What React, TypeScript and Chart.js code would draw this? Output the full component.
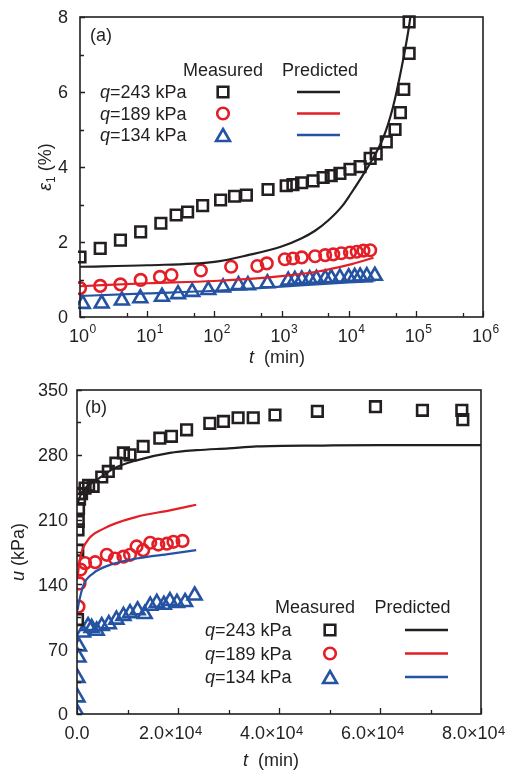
import React, { useEffect, useRef } from 'react';
import { Chart, registerables } from 'chart.js';

Chart.register(...registerables);

const FONT = "'Liberation Sans', Arial, Helvetica, sans-serif";
const INK = '#231f20';
const RED = '#e41e26';
const BLUE = '#2553a3';

// ---------- Panel (a): strain vs log time ----------
const A_T243 = [1, 2, 4, 8, 16, 27, 40, 67, 124, 200, 300, 630, 1175, 1480, 1995, 2950, 4170, 5500, 7410, 10470, 14790, 20890, 25700, 36300, 49000, 58900, 66070, 79430, 79430];
const A_E243 = [1.6, 1.83, 2.05, 2.27, 2.5, 2.72, 2.8, 2.97, 3.12, 3.22, 3.25, 3.4, 3.5, 3.53, 3.58, 3.63, 3.72, 3.77, 3.83, 3.94, 4.01, 4.23, 4.35, 4.67, 5.0, 5.45, 6.07, 7.03, 7.87];
const A_T189 = [1, 2, 4, 8, 15.5, 23, 63, 178, 437, 603, 1120, 1480, 2000, 3160, 4470, 5890, 7760, 10470, 13180, 16600, 20900];
const A_E189 = [0.77, 0.83, 0.87, 0.99, 1.07, 1.12, 1.24, 1.34, 1.36, 1.43, 1.54, 1.56, 1.59, 1.62, 1.65, 1.67, 1.7, 1.72, 1.74, 1.77, 1.78];
const A_T134 = [1.1, 2.1, 4.2, 7.9, 16.6, 28.8, 46.8, 81.3, 135, 229, 316, 617, 1260, 1580, 2000, 2630, 3310, 4470, 5500, 7410, 10000, 12300, 14800, 18600, 24500];
const A_E134 = [0.35, 0.36, 0.44, 0.5, 0.54, 0.61, 0.67, 0.72, 0.79, 0.85, 0.85, 0.9, 0.97, 0.99, 1.0, 1.01, 1.02, 1.03, 1.04, 1.05, 1.06, 1.07, 1.08, 1.09, 1.1];

const A_PT243 = [1, 10, 100, 316, 1000, 2000, 3160, 5000, 7940, 10700, 15850, 20900, 33100, 45700, 61700, 77600, 89100];
const A_PE243 = [1.34, 1.38, 1.47, 1.65, 1.88, 2.1, 2.3, 2.58, 2.95, 3.28, 3.75, 4.1, 4.8, 5.6, 6.67, 7.65, 8.4];
const A_PT189 = [1, 10, 100, 1000, 3160, 10000, 23400];
const A_PE189 = [0.82, 0.9, 0.96, 1.09, 1.2, 1.39, 1.58];
const A_PT134 = [1, 10, 100, 1000, 10000, 23400];
const A_PE134 = [0.56, 0.63, 0.7, 0.81, 0.92, 0.95];

const A_Y_TICKS = [0, 2, 4, 6, 8];
const A_Y_MINOR = [1, 3, 5, 7];
const A_X_TICKS = [1, 10, 100, 1000, 10000, 100000, 1000000];
const A_X_EXP = ['0', '1', '2', '3', '4', '5', '6'];
const A_X_MINOR = [5, 50, 500, 5000, 50000, 500000];

// ---------- Panel (b): pore pressure vs linear time ----------
const B_T243 = [100, 150, 200, 250, 300, 400, 500, 900, 1600, 2300, 3200, 4900, 6200, 7700, 9200, 10500, 13100, 16400, 18700, 21700, 26300, 29000, 31900, 34900, 39200, 47600, 59100, 68400, 76200, 76400];
const B_U243 = [102, 177, 199, 208, 222, 238, 232, 238, 244, 247, 246, 256, 262, 271, 282, 280, 289, 298, 300, 307, 314, 316, 320, 320, 323, 327, 332, 328, 328, 318];
const B_T189 = [300, 500, 700, 1600, 3600, 5900, 7500, 9200, 10500, 11800, 13100, 14500, 16100, 17800, 19100, 20900];
const B_U189 = [116, 141, 156, 163, 164, 172, 168, 170, 172, 181, 177, 185, 183, 184, 186, 187];
const B_T134 = [100, 100, 100, 300, 400, 1200, 2200, 2900, 3900, 4900, 6300, 7800, 9200, 10500, 12000, 13400, 14500, 15800, 17200, 18400, 19800, 21400, 23300];
const B_U134 = [1, 18, 39, 61, 73, 88, 95, 93, 90, 95, 97, 102, 106, 109, 112, 108, 117, 120, 118, 122, 120, 121, 128];

const B_PT243 = [150, 1000, 2570, 5000, 7200, 11800, 18400, 23700, 30000, 35600, 48800, 60000, 80000];
const B_PU243 = [228, 240, 248, 257, 265, 274, 282, 285, 287, 289, 290, 290.5, 290.5];
const B_PT189 = [100, 600, 1900, 5200, 11800, 18400, 23600];
const B_PU189 = [147, 168, 186, 200, 213, 220, 226];
const B_PT134 = [100, 400, 1250, 3200, 6500, 11800, 18400, 23600];
const B_PU134 = [112, 121, 139, 152, 161, 168, 173, 177];

const B_Y_TICKS = [0, 70, 140, 210, 280, 350];
const B_Y_MINOR = [35, 105, 175, 245, 315];
const B_X_TICKS = [0, 20000, 40000, 60000, 80000];
const B_X_BASE = ['0.0', '2.0×10', '4.0×10', '6.0×10', '8.0×10'];
const B_X_EXP = ['', '4', '4', '4', '4'];
const B_X_MINOR = [10000, 30000, 50000, 70000];

const LEGEND_Q = ['243', '189', '134'];
const LEGEND_COLORS = [INK, RED, BLUE];
const LEGEND_STYLES = ['rect', 'circle', 'triangle'];

const MARK_W = 2.6;
const R_RECT = 7.5;
const R_CIRC = 5.8;
const R_TRI = 8;

// ---------- helpers ----------
type Run = { t: string; size: number; italic?: boolean; dy?: number };
const fontOf = (r: Run) => `${r.italic ? 'italic ' : ''}${r.size}px ${FONT}`;

function runsWidth(ctx: CanvasRenderingContext2D, runs: Run[]) {
  let w = 0;
  for (const r of runs) { ctx.font = fontOf(r); w += ctx.measureText(r.t).width; }
  return w;
}
function drawRuns(ctx: CanvasRenderingContext2D, runs: Run[], x: number, baseY: number, align: 'left' | 'center' | 'right') {
  const w = runsWidth(ctx, runs);
  let cx = align === 'left' ? x : align === 'center' ? x - w / 2 : x - w;
  ctx.textAlign = 'left';
  ctx.textBaseline = 'alphabetic';
  ctx.fillStyle = INK;
  for (const r of runs) {
    ctx.font = fontOf(r);
    ctx.fillText(r.t, cx, baseY + (r.dy || 0));
    cx += ctx.measureText(r.t).width;
  }
}
function drawMarker(ctx: CanvasRenderingContext2D, style: string, x: number, y: number, color: string) {
  ctx.save();
  ctx.strokeStyle = color;
  ctx.lineWidth = MARK_W;
  ctx.beginPath();
  if (style === 'rect') {
    const s = R_RECT * Math.SQRT1_2;
    ctx.rect(x - s, y - s, 2 * s, 2 * s);
  } else if (style === 'circle') {
    ctx.arc(x, y, R_CIRC, 0, Math.PI * 2);
  } else {
    const r = R_TRI;
    const yc = y + 0.25 * r;
    ctx.moveTo(x, yc - r);
    ctx.lineTo(x + r * 0.866, yc + r * 0.5);
    ctx.lineTo(x - r * 0.866, yc + r * 0.5);
    ctx.closePath();
  }
  ctx.stroke();
  ctx.restore();
}
function drawFrameTicks(chart: any, xMajor: number[], xMinor: number[], yMajor: number[], yMinor: number[]) {
  const { ctx, chartArea } = chart;
  const { left, right, top, bottom } = chartArea;
  const xs = chart.scales.x;
  const ys = chart.scales.y;
  ctx.save();
  ctx.strokeStyle = INK;
  ctx.lineWidth = 1.6;
  ctx.strokeRect(left, top, right - left, bottom - top);
  ctx.lineWidth = 1.3;
  ctx.beginPath();
  for (const v of xMajor) { const p = Math.round(xs.getPixelForValue(v)) + 0.5; ctx.moveTo(p, bottom); ctx.lineTo(p, bottom - 6); }
  for (const v of xMinor) { const p = Math.round(xs.getPixelForValue(v)) + 0.5; ctx.moveTo(p, bottom); ctx.lineTo(p, bottom - 4); }
  for (const v of yMajor) { const p = Math.round(ys.getPixelForValue(v)) + 0.5; ctx.moveTo(left, p); ctx.lineTo(left + 5, p); }
  for (const v of yMinor) { const p = Math.round(ys.getPixelForValue(v)) + 0.5; ctx.moveTo(left, p); ctx.lineTo(left + 4, p); }
  ctx.stroke();
  ctx.restore();
}
function drawYLabels(chart: any, vals: number[], x: number) {
  const ctx = chart.ctx;
  const ys = chart.scales.y;
  for (const v of vals) drawRuns(ctx, [{ t: String(v), size: 18 }], x, ys.getPixelForValue(v) + 6.4, 'right');
}
function drawYTitle(ctx: CanvasRenderingContext2D, runs: Run[], cx: number, cy: number) {
  ctx.save();
  ctx.translate(cx, cy);
  ctx.rotate(-Math.PI / 2);
  drawRuns(ctx, runs, 0, 6.4, 'center');
  ctx.restore();
}
type LegendPos = { mX: number; pX: number; headY: number; labelX: number; rows: number[]; markX: number; l1: number; l2: number };
function drawLegend(ctx: CanvasRenderingContext2D, L: LegendPos) {
  drawRuns(ctx, [{ t: 'Measured', size: 18 }], L.mX, L.headY + 6.4, 'center');
  drawRuns(ctx, [{ t: 'Predicted', size: 18 }], L.pX, L.headY + 6.4, 'center');
  LEGEND_Q.forEach((q, i) => {
    const y = L.rows[i];
    drawRuns(ctx, [{ t: 'q', size: 18, italic: true }, { t: `=${q} kPa`, size: 18 }], L.labelX, y + 6.4, 'left');
    drawMarker(ctx, LEGEND_STYLES[i], L.markX, y, LEGEND_COLORS[i]);
    ctx.save();
    ctx.strokeStyle = LEGEND_COLORS[i];
    ctx.lineWidth = 2.4;
    ctx.beginPath();
    ctx.moveTo(L.l1, y);
    ctx.lineTo(L.l2, y);
    ctx.stroke();
    ctx.restore();
  });
}

const pts = (xs: number[], ys: number[]) => xs.map((x, i) => ({ x, y: ys[i] }));

function measured(data: { x: number; y: number }[], style: string, color: string, clip: number) {
  return {
    data, showLine: false, pointStyle: style,
    pointRadius: style === 'circle' ? R_CIRC : style === 'rect' ? R_RECT : R_TRI,
    borderColor: color, backgroundColor: 'rgba(0,0,0,0)', pointBorderWidth: MARK_W, borderWidth: MARK_W, clip,
  };
}
function predicted(data: { x: number; y: number }[], color: string) {
  return {
    data, showLine: true, pointRadius: 0, borderColor: color, borderWidth: 2.2, fill: false,
    cubicInterpolationMode: 'monotone', clip: 0,
  };
}

// ---------- chart builders ----------
function buildA(canvas: HTMLCanvasElement) {
  const decor = {
    id: 'decorA',
    afterDraw(chart: any) {
      const ctx = chart.ctx as CanvasRenderingContext2D;
      drawFrameTicks(chart, A_X_TICKS, A_X_MINOR, A_Y_TICKS, A_Y_MINOR);
      drawYLabels(chart, A_Y_TICKS, 68);
      const xs = chart.scales.x;
      A_X_TICKS.forEach((v, i) => {
        const p = xs.getPixelForValue(v);
        ctx.font = `18px ${FONT}`;
        const wb = ctx.measureText('10').width;
        const sx = p - wb / 2 - 1;
        drawRuns(ctx, [{ t: '10', size: 18 }], sx, 341.5, 'left');
        drawRuns(ctx, [{ t: A_X_EXP[i], size: 12 }], sx + wb + 0.5, 333, 'left');
      });
      drawRuns(ctx, [{ t: 't', size: 18, italic: true }, { t: '  (min)', size: 18 }], 277, 363, 'center');
      drawYTitle(ctx, [{ t: 'ε', size: 18, italic: true }, { t: '1', size: 12, dy: 4 }, { t: ' (%)', size: 18 }], 45, 167);
      drawRuns(ctx, [{ t: '(a)', size: 18 }], 90, 41.4, 'left');
      drawLegend(ctx, { mX: 223, pX: 320, headY: 70, labelX: 100, rows: [92, 113.5, 135], markX: 223, l1: 297, l2: 340 });
    },
  };
  return new Chart(canvas, {
    type: 'scatter',
    data: {
      datasets: [
        predicted(pts(A_PT243, A_PE243), INK),
        predicted(pts(A_PT189, A_PE189), RED),
        predicted(pts(A_PT134, A_PE134), BLUE),
        measured(pts(A_T243, A_E243), 'rect', INK, 2),
        measured(pts(A_T189, A_E189), 'circle', RED, 2),
        measured(pts(A_T134, A_E134), 'triangle', BLUE, 2),
      ] as any,
    },
    options: {
      responsive: false,
      animation: false,
      events: [],
      layout: { padding: { top: 17, right: 24, left: 0, bottom: 0 } },
      scales: {
        x: {
          type: 'logarithmic', min: 1, max: 1000000,
          grid: { display: false }, border: { display: false }, ticks: { display: false },
          afterFit: (s: any) => { s.height = 53; },
        },
        y: {
          type: 'linear', min: 0, max: 8,
          grid: { display: false }, border: { display: false }, ticks: { display: false },
          afterFit: (s: any) => { s.width = 80; },
        },
      },
      plugins: { legend: { display: false }, tooltip: { enabled: false } },
    } as any,
    plugins: [decor],
  });
}

function buildB(canvas: HTMLCanvasElement) {
  const decor = {
    id: 'decorB',
    afterDraw(chart: any) {
      const ctx = chart.ctx as CanvasRenderingContext2D;
      drawFrameTicks(chart, B_X_TICKS, B_X_MINOR, B_Y_TICKS, B_Y_MINOR);
      drawYLabels(chart, B_Y_TICKS, 68);
      const xs = chart.scales.x;
      B_X_TICKS.forEach((v, i) => {
        const p = xs.getPixelForValue(v);
        if (!B_X_EXP[i]) {
          drawRuns(ctx, [{ t: B_X_BASE[i], size: 18 }], p, 368.5, 'center');
        } else {
          ctx.font = `18px ${FONT}`;
          const wb = ctx.measureText(B_X_BASE[i]).width;
          const sx = p - 39;
          drawRuns(ctx, [{ t: B_X_BASE[i], size: 18 }], sx, 368.5, 'left');
          drawRuns(ctx, [{ t: B_X_EXP[i], size: 13 }], sx + wb + 0.5, 364.5, 'left');
        }
      });
      drawRuns(ctx, [{ t: 't', size: 18, italic: true }, { t: '  (min)', size: 18 }], 271, 396, 'center');
      drawYTitle(ctx, [{ t: 'u', size: 18, italic: true }, { t: ' (kPa)', size: 18 }], 18, 182);
      drawRuns(ctx, [{ t: '(b)', size: 18 }], 85, 43.4, 'left');
      drawLegend(ctx, { mX: 315, pX: 412.5, headY: 237, labelX: 205, rows: [260, 283.5, 307], markX: 330, l1: 405, l2: 448 });
    },
  };
  return new Chart(canvas, {
    type: 'scatter',
    data: {
      datasets: [
        predicted(pts(B_PT243, B_PU243), INK),
        predicted(pts(B_PT189, B_PU189), RED),
        predicted(pts(B_PT134, B_PU134), BLUE),
        measured(pts(B_T243, B_U243), 'rect', INK, 0),
        measured(pts(B_T189, B_U189), 'circle', RED, 0),
        measured(pts(B_T134, B_U134), 'triangle', BLUE, 0),
      ] as any,
    },
    options: {
      responsive: false,
      animation: false,
      events: [],
      layout: { padding: { top: 20, right: 26, left: 0, bottom: 0 } },
      scales: {
        x: {
          type: 'linear', min: 0, max: 80000,
          grid: { display: false }, border: { display: false }, ticks: { display: false },
          afterFit: (s: any) => { s.height = 57; },
        },
        y: {
          type: 'linear', min: 0, max: 350,
          grid: { display: false }, border: { display: false }, ticks: { display: false },
          afterFit: (s: any) => { s.width = 77; },
        },
      },
      plugins: { legend: { display: false }, tooltip: { enabled: false } },
    } as any,
    plugins: [decor],
  });
}

function ChartCanvas({ build, top, height }: { build: (c: HTMLCanvasElement) => Chart; top: number; height: number }) {
  const ref = useRef<HTMLCanvasElement>(null);
  useEffect(() => {
    const chart = build(ref.current as HTMLCanvasElement);
    return () => chart.destroy();
  }, []);
  return (
    <canvas
      ref={ref}
      width={507}
      height={height}
      style={{ position: 'absolute', left: 0, top, width: 507, height, display: 'block' }}
    />
  );
}

export default function App() {
  return (
    <div style={{ position: 'absolute', left: 0, top: 0, width: 507, height: 771, background: '#fff', overflow: 'hidden' }}>
      <ChartCanvas build={buildA} top={0} height={370} />
      <ChartCanvas build={buildB} top={370} height={401} />
    </div>
  );
}
